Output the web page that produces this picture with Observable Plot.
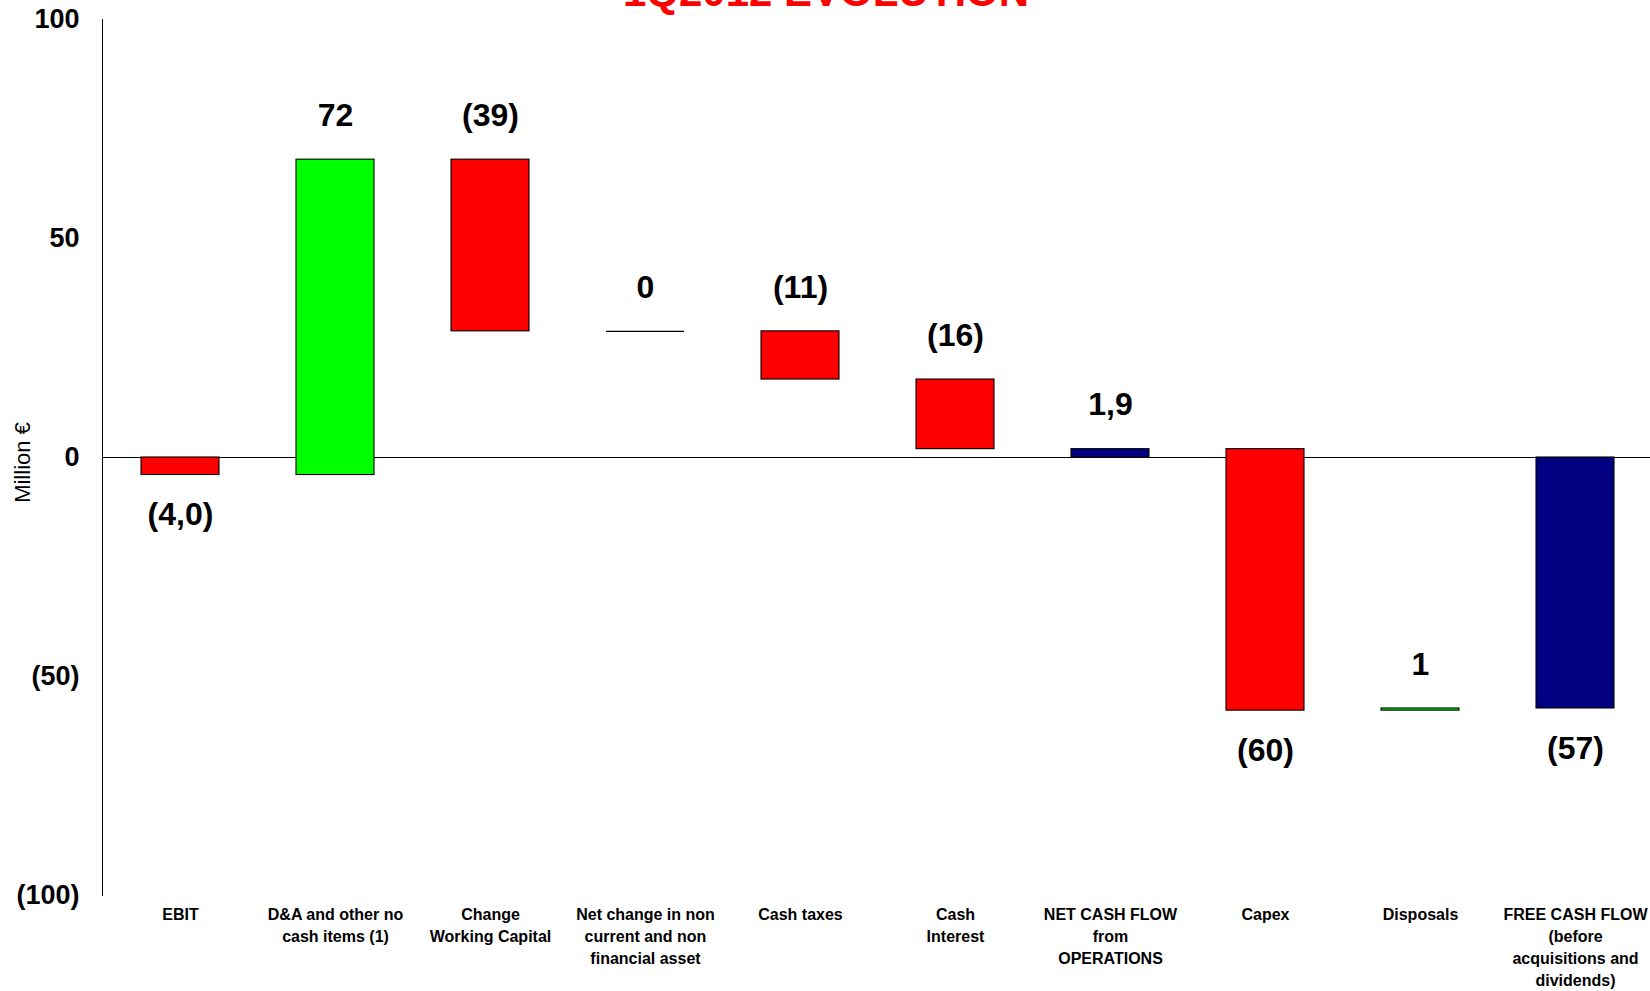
<!DOCTYPE html>
<html>
<head>
<meta charset="utf-8">
<script src="https://cdn.jsdelivr.net/npm/d3@7"></script>
<script src="https://cdn.jsdelivr.net/npm/@observablehq/plot@0.6"></script>
<style>
  html, body { margin: 0; padding: 0; background: #fff; overflow: hidden; }
  #wrap { position: relative; width: 1650px; height: 991px; font-family: "Liberation Sans", Arial, sans-serif; }
  #title { position: absolute; left: 0; width: 1650px; top: -29px; text-align: center;
           font: bold 42px/42px "Liberation Sans", Arial, sans-serif; color: #FF0000; white-space: nowrap; }
  #title span { position: relative; left: 1px; }
</style>
</head>
<body>
<div id="wrap">
  <div id="title"><span>1Q2012 EVOLUTION</span></div>
  <div id="chart"></div>
</div>
<script>
// ---- data ----
const categories = ["EBIT", "D&A", "Change WC", "Net change", "Cash taxes", "Cash Interest", "NCF", "Capex", "Disposals", "FCF"];
const tickLabels = [
  "EBIT",
  "D&A and other no\ncash items (1)",
  "Change\nWorking Capital",
  "Net change in non\ncurrent and non\nfinancial asset",
  "Cash taxes",
  "Cash\nInterest",
  "NET CASH FLOW\nfrom\nOPERATIONS",
  "Capex",
  "Disposals",
  "FREE CASH FLOW\n(before\nacquisitions and\ndividends)"
];
const deltas = [-4.0, 72.0, -39.2, 0, -11.0, -15.9, null, -59.7, 0.5, null];
const isTotal = [false, false, false, false, false, false, true, false, false, true];
const valueLabels = ["(4,0)", "72", "(39)", "0", "(11)", "(16)", "1,9", "(60)", "1", "(57)"];
const labelSide = ["below", "above", "above", "above", "above", "above", "above", "below", "above", "below"];
const barColors = ["#FF0000", "#00FF00", "#FF0000", "#000000", "#FF0000", "#FF0000", "#000080", "#FF0000", "#00FF00", "#000080"];
const yTicks = [-100, -50, 0, 50, 100];

// ---- build waterfall table ----
let running = 0;
const rows = categories.map((c, i) => {
  let start, end;
  if (isTotal[i]) { start = 0; end = running; }
  else { start = running; end = running + deltas[i]; running = end; }
  const top = Math.max(start, end), bottom = Math.min(start, end);
  return {
    cat: c, tick: tickLabels[i], start, end, top, bottom,
    label: valueLabels[i], side: labelSide[i], color: barColors[i],
    labelY: labelSide[i] === "above" ? top : bottom
  };
});
const flat = rows.filter(d => d.start === d.end);
const solid = rows.filter(d => d.start !== d.end);
const above = rows.filter(d => d.side === "above");
const below = rows.filter(d => d.side === "below");

const fmt = d => d < 0 ? `(${-d})` : `${d}`;

const chart = Plot.plot({
  width: 1650,
  height: 991,
  marginTop: 19,
  marginBottom: 96,
  marginLeft: 102,
  marginRight: -3,
  style: { fontFamily: "'Liberation Sans', Arial, sans-serif", color: "#000", background: "#fff", overflow: "hidden" },
  x: { type: "band", domain: categories, paddingInner: 0.5, paddingOuter: 0.246, axis: null },
  y: { domain: [-100, 100], ticks: yTicks, tickFormat: fmt, tickSize: 0, tickPadding: 23, line: true, label: null },
  marks: [
    Plot.ruleY([0], { stroke: "#000", strokeWidth: 1 }),
    Plot.barY(solid, { x: "cat", y1: "start", y2: "end", fill: "color", stroke: "#000", strokeWidth: 1.1 }),
    Plot.tickY(flat, { x: "cat", y: "start", stroke: "color", strokeWidth: 1.2 }),
    Plot.text(above, { x: "cat", y: "labelY", text: "label", dy: -44, fontSize: 32, fontWeight: "bold", fill: "#000" }),
    Plot.text(below, { x: "cat", y: "labelY", text: "label", dy: 40, fontSize: 32, fontWeight: "bold", fill: "#000" }),
    Plot.text(rows, { x: "cat", text: "tick", frameAnchor: "bottom", lineAnchor: "top", dy: 9, fontSize: 16, fontWeight: "bold", lineHeight: 1.38, fill: "#000" }),
    Plot.text(["Million €"], { frameAnchor: "left", textAnchor: "middle", text: d => d, rotate: -90, dx: -80, dy: 5, fontSize: 22, fill: "#000" })
  ]
});
chart.querySelectorAll("g[aria-label='y-axis tick label'] text, g[aria-label='y-axis'] text").forEach(t => {
  t.setAttribute("font-weight", "bold");
  t.setAttribute("font-size", "27");
});
document.getElementById("chart").appendChild(chart);
</script>
</body>
</html>
